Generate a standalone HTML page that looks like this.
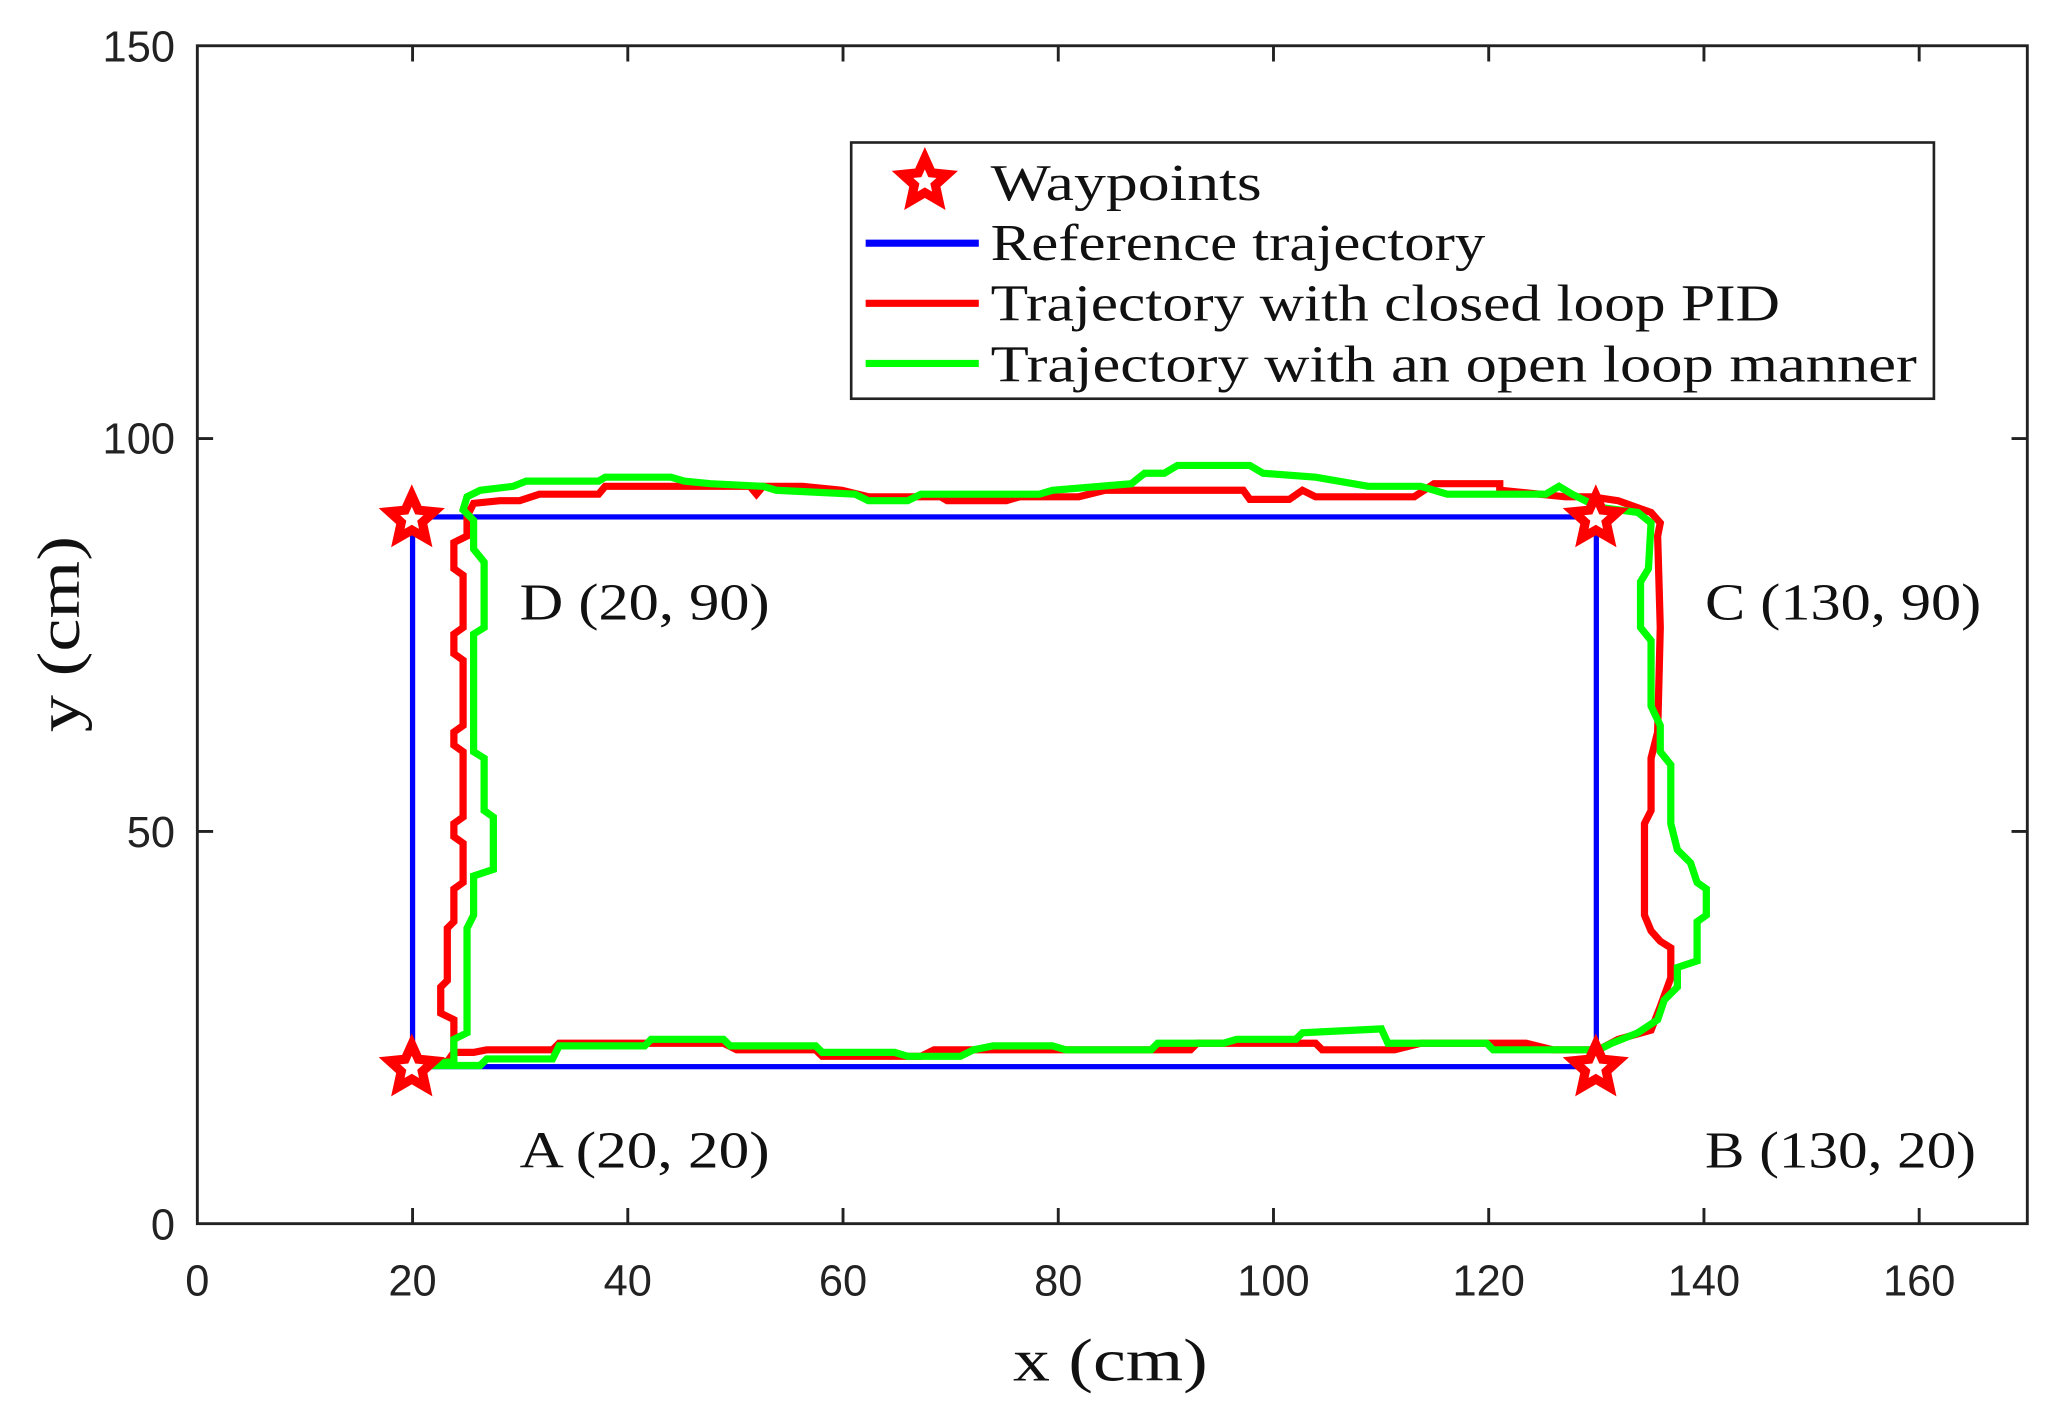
<!DOCTYPE html>
<html><head><style>html,body{margin:0;padding:0;background:#fff}svg{display:block}</style></head><body>
<svg width="2051" height="1408" viewBox="0 0 1559 1077" preserveAspectRatio="none" xmlns="http://www.w3.org/2000/svg">
<defs><polygon id="st" points="0,-18 5,-6.8 17,-5.6 8,2.6 10.6,14.6 0,8.4 -10.6,14.6 -8,2.6 -17,-5.6 -5,-6.8" fill="#fff" stroke="#f00" stroke-width="7" stroke-linejoin="miter"/></defs>
<g fill="none" stroke-linejoin="miter">
<rect x="313.6" y="395.4" width="899.8" height="420.5" stroke="#00f" stroke-width="4"/>
<polyline stroke="#f00" stroke-width="5.5" points="313,812 340,812 345,805 360,805 370,803 420,803 425,798 550,798 560,803 620,803 625,808 700,808 710,803 760,803 800,803 905,803 910,798 1000,798 1005,803 1060,803 1080,798 1160,798 1180,803 1215,803 1230,795 1255,788 1262,770 1270,748 1270,725 1262,720 1255,712 1250,700 1250,630 1255,620 1255,580 1260,560 1262,480 1260,410 1262,400 1255,392 1230,383 1210,380 1190,380 1140,375 1140,370 1090,370 1075,380 1000,380 990,375 980,382 950,382 945,375 890,375 840,375 820,380 775,380 765,383 720,383 715,380 660,380 640,375 610,372 580,372 575,378 570,372 460,372 455,378 410,378 395,383 380,383 360,385 355,395 355,410 345,415 345,435 352,440 352,480 345,485 345,500 352,505 352,555 345,560 345,570 352,575 352,625 345,630 345,640 352,645 352,675 345,680 345,705 340,710 340,750 335,755 335,775 345,780 345,805"/>
<polyline stroke="#0f0" stroke-width="5.5" points="310,815 365,815 370,810 420,810 425,800 490,800 495,795 550,795 555,800 620,800 625,805 680,805 690,808 730,808 740,803 755,800 800,800 810,803 875,803 880,798 930,798 940,795 985,795 990,790 1050,787 1055,798 1130,798 1135,803 1215,803 1225,798 1245,790 1260,780 1265,765 1275,755 1275,740 1290,735 1290,705 1297,700 1297,680 1290,675 1285,660 1275,650 1270,630 1270,585 1262,575 1262,555 1255,540 1255,490 1247,480 1247,445 1253,435 1255,400 1245,392 1215,388 1195,378 1185,372 1175,378 1100,378 1080,372 1040,372 1000,365 960,362 950,356 895,356 885,362 870,362 860,370 800,375 790,378 700,378 690,383 660,383 650,378 590,375 580,372 540,370 520,368 510,365 460,365 455,368 400,368 390,372 365,375 355,380 352,390 360,398 360,420 368,430 368,480 360,485 360,575 368,580 368,620 375,625 375,665 360,670 360,700 355,710 355,790 345,795 345,812 310,815"/>
</g>
<use href="#st" x="313" y="397"/><use href="#st" x="1213" y="397"/><use href="#st" x="313" y="817"/><use href="#st" x="1213" y="817"/>
<g stroke="#222" stroke-width="2.2" fill="none">
<rect x="150" y="35" width="1391" height="901"/>
<path d="M313.6,936v-12M477.2,936v-12M640.8,936v-12M804.4,936v-12M968,936v-12M1131.6,936v-12M1295.2,936v-12M1458.8,936v-12M313.6,35v12M477.2,35v12M640.8,35v12M804.4,35v12M968,35v12M1131.6,35v12M1295.2,35v12M1458.8,35v12M150,636h12M150,335.5h12M1541,636h-12M1541,335.5h-12"/>
</g>
<g font-family="Liberation Sans, sans-serif" font-size="33" fill="#222" text-anchor="middle">
<text x="150" y="991">0</text><text x="313.6" y="991">20</text><text x="477.2" y="991">40</text><text x="640.8" y="991">60</text><text x="804.4" y="991">80</text><text x="968" y="991">100</text><text x="1131.6" y="991">120</text><text x="1295.2" y="991">140</text><text x="1458.8" y="991">160</text>
<g text-anchor="end"><text x="133" y="948">0</text><text x="133" y="648">50</text><text x="133" y="347">100</text><text x="133" y="47">150</text></g>
</g>
<g font-family="Liberation Serif, serif" fill="#111">
<text x="770" y="1056" font-size="46" textLength="148" lengthAdjust="spacingAndGlyphs">x (cm)</text>
<text transform="translate(60,560) rotate(-90)" font-size="46" textLength="150" lengthAdjust="spacingAndGlyphs">y (cm)</text>
<g font-size="40" lengthAdjust="spacingAndGlyphs">
<text x="395" y="474" textLength="190" lengthAdjust="spacingAndGlyphs">D (20, 90)</text>
<text x="1296" y="474" textLength="210" lengthAdjust="spacingAndGlyphs">C (130, 90)</text>
<text x="395" y="893" textLength="190" lengthAdjust="spacingAndGlyphs">A (20, 20)</text>
<text x="1296" y="893" textLength="206" lengthAdjust="spacingAndGlyphs">B (130, 20)</text></g>
</g>
<rect x="647" y="109" width="823" height="196" fill="#fff" stroke="#222" stroke-width="2"/>
<use href="#st" x="703" y="139"/>
<g stroke-width="5.5"><line x1="658" y1="186" x2="744" y2="186" stroke="#00f"/><line x1="658" y1="232" x2="744" y2="232" stroke="#f00"/><line x1="658" y1="278" x2="744" y2="278" stroke="#0f0"/></g>
<g font-family="Liberation Serif, serif" font-size="40" fill="#111">
<text x="753" y="153" textLength="206" lengthAdjust="spacingAndGlyphs">Waypoints</text>
<text x="753" y="199" textLength="376" lengthAdjust="spacingAndGlyphs">Reference trajectory</text>
<text x="753" y="245" textLength="600" lengthAdjust="spacingAndGlyphs">Trajectory with closed loop PID</text>
<text x="753" y="292" textLength="704" lengthAdjust="spacingAndGlyphs">Trajectory with an open loop manner</text>
</g>
</svg>
</body></html>
